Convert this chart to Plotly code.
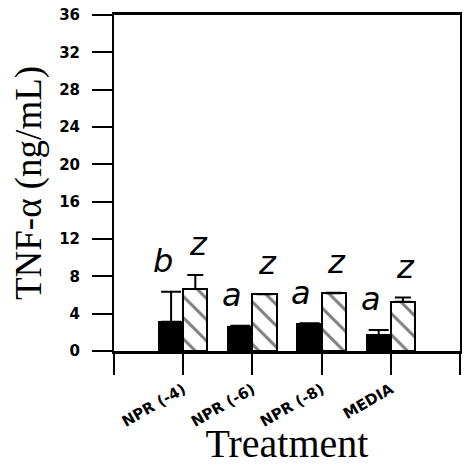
import plotly.graph_objects as go

categories = ["NPR (-4)", "NPR (-6)", "NPR (-8)", "MEDIA"]
black_values = [3.14, 2.6, 2.86, 1.71]
black_errors = [3.22, 0.1, 0.1, 0.54]
hatched_values = [6.65, 6.07, 6.18, 5.29]
hatched_errors = [1.5, 0.05, 0.05, 0.43]
black_letters = ["b", "a", "a", "a"]
hatched_letters = ["z", "z", "z", "z"]
y_ticks = [0, 4, 8, 12, 16, 20, 24, 28, 32, 36]

pos = [i + 1 for i in range(len(categories))]
bw = 0.35

fig = go.Figure()
fig.add_trace(go.Bar(
    x=pos, y=black_values, offset=-bw, width=bw,
    marker=dict(color="black", line=dict(color="black", width=2)),
    error_y=dict(type="data", array=black_errors, arrayminus=[0]*4, symmetric=False,
                 color="black", thickness=2, width=10),
    showlegend=False,
))
fig.add_trace(go.Bar(
    x=pos, y=hatched_values, offset=0, width=bw,
    marker=dict(color="white", line=dict(color="black", width=2),
                pattern=dict(shape="\\", size=15, solidity=0.2, fgcolor="black", bgcolor="white")),
    error_y=dict(type="data", array=hatched_errors, arrayminus=[0]*4, symmetric=False,
                 color="black", thickness=2, width=8),
    showlegend=False,
))

letter_font = dict(family="DejaVu Sans", size=32, color="black", style="italic")
off = 3.3
for p, v, e, t in zip(pos, black_values, black_errors, black_letters):
    fig.add_annotation(x=p - bw / 2, y=v + e + off, text=t, showarrow=False,
                       font=letter_font, xshift=-8, yanchor="middle")
for p, v, e, t in zip(pos, hatched_values, hatched_errors, hatched_letters):
    fig.add_annotation(x=p + bw / 2, y=v + e + off, text=t, showarrow=False,
                       font=letter_font, xshift=3, yanchor="middle")

fig.update_layout(
    width=468, height=466,
    margin=dict(l=114, r=6, t=15, b=115),
    paper_bgcolor="white", plot_bgcolor="white",
    bargap=0,
    xaxis=dict(
        range=[0, 5], tickmode="array", tickvals=[0] + pos + [5],
        ticktext=[""] + categories + [""],
        ticks="outside", ticklen=21, tickwidth=2, tickcolor="black",
        tickangle=-30,
        tickfont=dict(family="DejaVu Sans", size=15, color="black", weight="bold"),
        showline=True, linecolor="black", linewidth=3, mirror=True,
        showgrid=False, zeroline=False,
        title=dict(text="Treatment", font=dict(family="Liberation Serif", size=40, color="black"), standoff=0),
    ),
    yaxis=dict(
        range=[0, 36], tickmode="array", tickvals=y_ticks,
        ticks="outside", ticklen=20, tickwidth=2, tickcolor="black",
        ticklabelstandoff=9,
        tickfont=dict(family="DejaVu Sans", size=15, color="black", weight="bold"),
        showline=True, linecolor="black", linewidth=2, mirror=True,
        showgrid=False, zeroline=False,
        title=dict(text="TNF-α (ng/mL)", font=dict(family="Liberation Serif", size=37, color="black"), standoff=6),
    ),
)

fig.write_html("out.html")
